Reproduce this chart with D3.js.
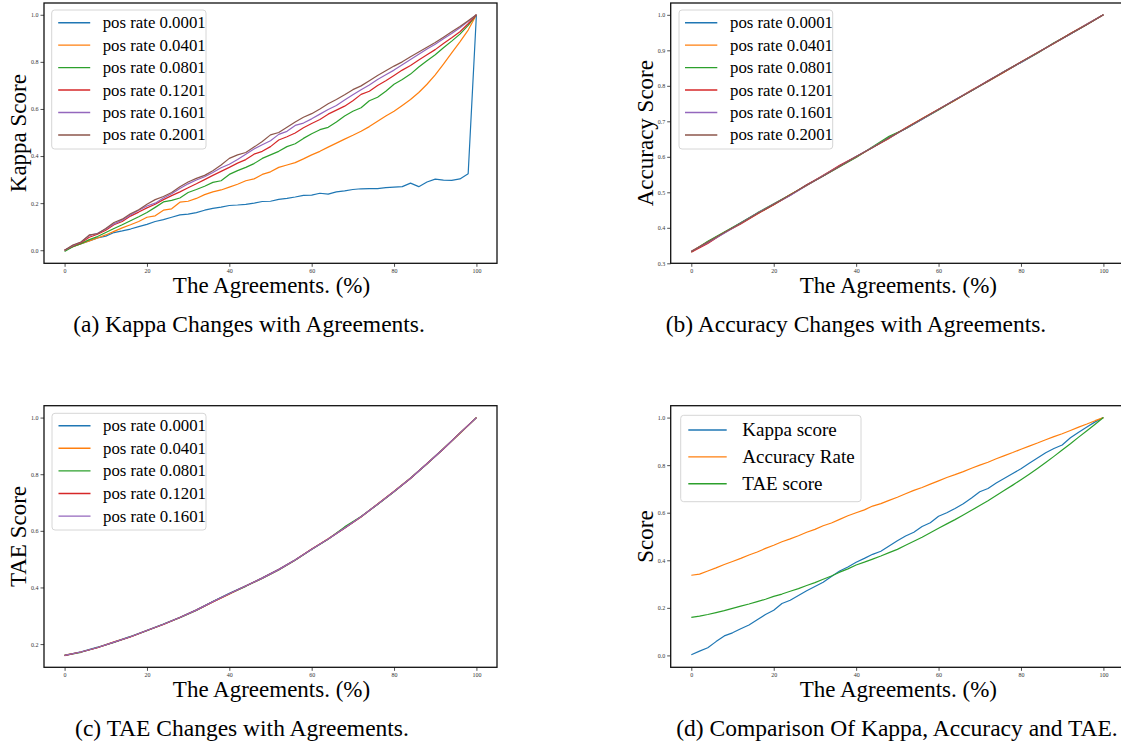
<!DOCTYPE html>
<html>
<head>
<meta charset="utf-8">
<script src="https://cdn.jsdelivr.net/npm/d3@7"></script>
<style>
body { margin: 0; background: #fff; }
text { font-family: "Liberation Serif", "Times New Roman", serif; }
</style>
</head>
<body>
<svg width="1121" height="744"></svg>
<script>
// x grids (agreement %)
const agreeFine = [0,2,4,6,8,10,12,14,16,18,20,22,24,26,28,30,32,34,36,38,40,42,44,46,48,50,
                   52,54,56,58,60,62,64,66,68,70,72,74,76,78,80,82,84,86,88,90,92,94,96,98,100];
const agreeCoarse = [0,4,8,12,16,20,24,28,32,36,40,44,48,52,56,60,64,68,72,76,80,84,88,92,96,100];
const xTicks = [0, 20, 40, 60, 80, 100];

const posRates = ["pos rate 0.0001", "pos rate 0.0401", "pos rate 0.0801",
                  "pos rate 0.1201", "pos rate 0.1601", "pos rate 0.2001"];
const colors = ["#1f77b4", "#ff7f0e", "#2ca02c", "#d62728", "#9467bd", "#8c564b"];

// (a) kappa per pos rate
const kappa0001 = [0,.015,.028,.040,.052,.060,.075,.082,.090,.100,.110,.122,.130,.140,.150,.153,.160,.170,.178,.183,
  .190,.192,.195,.200,.207,.208,.216,.220,.226,.233,.234,.242,.238,.248,.252,.258,.261,.262,.262,.266,
  .268,.270,.285,.270,.290,.302,.298,.297,.303,.325,1.0];
const kappa0401 = [0,.015,.028,.040,.052,.065,.080,.095,.108,.122,.140,.146,.170,.176,.204,.208,.220,.236,.248,.256,
  .268,.280,.295,.303,.322,.333,.352,.362,.372,.388,.405,.420,.438,.455,.472,.488,.505,.525,.548,.570,
  .590,.615,.640,.670,.705,.745,.790,.838,.885,.935,1.0];
const kappa0801 = [-.005,.015,.028,.045,.058,.075,.092,.108,.125,.142,.160,.182,.205,.212,.222,.245,.258,.272,.288,.295,
  .322,.338,.352,.368,.390,.405,.420,.440,.452,.475,.495,.512,.522,.545,.570,.590,.605,.635,.650,.675,
  .705,.725,.748,.778,.805,.830,.860,.888,.918,.955,1.0];
const kappa1201 = [0,.018,.032,.055,.068,.085,.108,.122,.145,.162,.180,.195,.215,.232,.248,.265,.282,.300,.318,.335,
  .352,.370,.385,.408,.420,.440,.468,.482,.498,.520,.538,.555,.578,.595,.612,.635,.662,.675,.700,.720,
  .742,.765,.785,.808,.830,.852,.878,.902,.928,.962,1.0];
const kappa1601 = [0,.020,.035,.062,.072,.090,.112,.128,.150,.170,.188,.200,.222,.240,.262,.282,.298,.312,.330,.350,
  .365,.385,.408,.430,.448,.465,.492,.505,.530,.540,.558,.578,.598,.615,.638,.660,.682,.702,.725,.745,
  .765,.788,.810,.832,.855,.875,.898,.920,.945,.972,1.0];
const kappa2001 = [0,.022,.035,.065,.070,.092,.118,.132,.155,.172,.195,.215,.228,.245,.270,.290,.305,.318,.338,.362,
  .390,.405,.415,.438,.462,.490,.500,.522,.545,.565,.580,.600,.622,.640,.660,.682,.698,.720,.742,.762,
  .782,.800,.822,.842,.862,.882,.905,.928,.950,.975,1.0];

// (b) accuracy per pos rate
const acc0001 = [.333,.358,.386,.414,.441,.466,.492,.521,.546,.574,.601,.626,.655,.679,.706,.733,.761,.786,.814,.840,.866,.893,.920,.946,.973,1];
const acc0401 = [.334,.361,.387,.412,.439,.465,.494,.519,.548,.575,.599,.627,.652,.681,.708,.734,.759,.788,.812,.839,.867,.894,.919,.947,.974,1];
const acc0801 = [.332,.362,.388,.414,.442,.468,.493,.520,.546,.572,.598,.628,.658,.679,.706,.732,.760,.786,.813,.841,.866,.892,.921,.946,.973,1];
const acc1201 = [.331,.356,.386,.411,.439,.465,.492,.521,.547,.576,.601,.626,.652,.681,.707,.734,.760,.787,.814,.840,.867,.893,.920,.947,.973,1];
const acc1601 = [.334,.359,.385,.413,.441,.467,.491,.519,.547,.574,.600,.627,.653,.680,.706,.733,.761,.787,.813,.841,.866,.893,.920,.946,.974,1];
const acc2001 = [.333,.360,.387,.413,.440,.466,.493,.520,.546,.573,.600,.626,.654,.680,.707,.733,.760,.786,.813,.840,.867,.893,.920,.947,.973,1];

// (c) TAE per pos rate
const tae0001 = [.160,.173,.189,.207,.227,.249,.271,.295,.321,.350,.379,.406,.434,.464,.498,.534,.571,.610,.650,.694,.739,.786,.837,.890,.945,1];
const tae0401 = [.161,.172,.188,.208,.226,.248,.270,.294,.320,.349,.376,.405,.433,.463,.497,.535,.572,.611,.649,.695,.740,.787,.836,.891,.944,1];
const tae0801 = [.160,.171,.188,.206,.226,.247,.270,.293,.319,.350,.378,.404,.432,.462,.496,.535,.570,.614,.651,.693,.738,.786,.837,.890,.945,1];
const tae1201 = [.159,.172,.187,.207,.225,.248,.269,.294,.320,.349,.378,.405,.433,.463,.497,.536,.571,.609,.650,.694,.739,.785,.838,.889,.946,1];
const tae1601 = [.160,.172,.188,.207,.226,.248,.270,.294,.320,.350,.378,.405,.433,.463,.497,.535,.571,.610,.650,.694,.739,.786,.837,.890,.945,1];

// (d) comparison
const compNames = ["Kappa score", "Accuracy Rate", "TAE score"];
const compKappa = [.003,.018,.032,.058,.082,.095,.112,.128,.150,.172,.190,.218,.232,.252,.272,.290,.308,.332,.355,.372,
  .392,.408,.425,.438,.460,.482,.502,.518,.542,.558,.585,.600,.618,.638,.662,.688,.702,.725,.745,.765,
  .785,.808,.830,.852,.870,.885,.915,.938,.960,.982,1.0];
const compAcc = [.337,.342,.355,.368,.382,.395,.408,.422,.435,.450,.463,.478,.490,.503,.518,.530,.545,.557,.572,.587,
  .600,.612,.628,.638,.652,.665,.680,.694,.706,.720,.734,.748,.760,.773,.787,.800,.812,.827,.840,.853,
  .867,.880,.893,.907,.920,.932,.946,.960,.973,.987,1.0];
const compTae = [.160,.165,.172,.180,.188,.198,.207,.216,.226,.236,.248,.258,.270,.281,.294,.306,.320,.334,.350,.364,
  .380,.392,.405,.418,.432,.446,.463,.480,.497,.516,.535,.553,.571,.590,.610,.630,.650,.672,.694,.716,
  .739,.762,.786,.811,.837,.864,.890,.918,.945,.972,1.0];

const svg = d3.select("svg");

function drawPanel(p) {
  const g = svg.append("g");
  const x = d3.scaleLinear().domain([-5, 105]).range([p.left, p.right]);
  const y = d3.scaleLinear().domain(p.yDomain).range([p.bottom, p.top]);
  const line = d3.line().x(d => x(d[0])).y(d => y(d[1]));

  p.series.forEach(s => {
    g.append("path")
      .datum(s.values.map((v, i) => [p.xs[i], v]))
      .attr("fill", "none")
      .attr("stroke", s.color)
      .attr("stroke-width", 1.2)
      .attr("stroke-linejoin", "round")
      .attr("d", line);
  });

  const xAxis = g.append("g")
    .attr("transform", `translate(0,${p.bottom})`)
    .call(d3.axisBottom(x).tickValues(xTicks).tickSize(3.5).tickPadding(1.5).tickFormat(d3.format("d")));
  const yAxis = g.append("g")
    .attr("transform", `translate(${p.left},0)`)
    .call(d3.axisLeft(y).tickValues(p.yTicks).tickSize(3.5).tickPadding(2).tickFormat(d3.format(".1f")));
  [xAxis, yAxis].forEach(a => {
    a.select(".domain").remove();
    a.selectAll("line").attr("stroke", "#222").attr("stroke-width", 0.8);
    a.selectAll("text").attr("fill", "#333").style("font-size", "6px")
      .style("font-family", "'Liberation Serif', serif");
  });

  // frame
  g.append("rect")
    .attr("x", p.left).attr("y", p.top)
    .attr("width", p.right - p.left).attr("height", p.bottom - p.top)
    .attr("fill", "none").attr("stroke", "#111").attr("stroke-width", 1.3);

  // axis labels
  g.append("text")
    .attr("x", (p.left + p.right) / 2 + 1)
    .attr("y", p.bottom + 30)
    .attr("text-anchor", "middle")
    .style("font-size", "23px")
    .text("The Agreements. (%)");
  g.append("text")
    .attr("transform", `translate(${p.left - 18},${(p.top + p.bottom) / 2}) rotate(-90)`)
    .attr("text-anchor", "middle")
    .style("font-size", "23px")
    .text(p.yLabel);

  // caption
  g.append("text")
    .attr("x", p.captionX)
    .attr("y", p.bottom + 68.5)
    .attr("text-anchor", "middle")
    .style("font-size", "23.5px")
    .text(p.caption);

  // legend
  const L = p.legend;
  g.append("rect")
    .attr("x", L.x).attr("y", L.y)
    .attr("width", L.w).attr("height", L.h)
    .attr("rx", 3)
    .attr("fill", "#fff").attr("fill-opacity", 0.8)
    .attr("stroke", "#d6d6d6").attr("stroke-width", 1);
  p.series.forEach((s, i) => {
    const cy = L.firstRow + i * L.step;
    g.append("line")
      .attr("x1", L.x + L.lineX0).attr("x2", L.x + L.lineX1)
      .attr("y1", cy).attr("y2", cy)
      .attr("stroke", s.color).attr("stroke-width", 1.4);
    g.append("text")
      .attr("x", L.x + L.textX)
      .attr("y", cy)
      .attr("dy", "0.33em")
      .style("font-size", L.font + "px")
      .text(s.name);
  });
}

drawPanel({
  left: 44, right: 497, top: 3, bottom: 263.3,
  yDomain: [-0.0555, 1.05], yTicks: [0, 0.2, 0.4, 0.6, 0.8, 1.0],
  xs: agreeFine,
  series: [kappa0001, kappa0401, kappa0801, kappa1201, kappa1601, kappa2001]
    .map((v, i) => ({name: posRates[i], color: colors[i], values: v})),
  yLabel: "Kappa Score",
  caption: "(a) Kappa Changes with Agreements.", captionX: 249,
  legend: {x: 51.7, y: 10, w: 154.3, h: 139, firstRow: 22.7, step: 22.45,
           lineX0: 6.5, lineX1: 38.5, textX: 51, font: 16.8}
});

drawPanel({
  left: 670.7, right: 1124, top: 3, bottom: 263.3,
  yDomain: [0.3, 1.0333], yTicks: [0.3, 0.4, 0.5, 0.6, 0.7, 0.8, 0.9, 1.0],
  xs: agreeCoarse,
  series: [acc0001, acc0401, acc0801, acc1201, acc1601, acc2001]
    .map((v, i) => ({name: posRates[i], color: colors[i], values: v})),
  yLabel: "Accuracy Score",
  caption: "(b) Accuracy Changes with Agreements.", captionX: 856,
  legend: {x: 679, y: 10, w: 153.7, h: 139, firstRow: 22.7, step: 22.45,
           lineX0: 6, lineX1: 38.3, textX: 51, font: 16.8}
});

drawPanel({
  left: 44, right: 497, top: 405.7, bottom: 667.3,
  yDomain: [0.118, 1.042], yTicks: [0.2, 0.4, 0.6, 0.8, 1.0],
  xs: agreeCoarse,
  series: [tae0001, tae0401, tae0801, tae1201, tae1601]
    .map((v, i) => ({name: posRates[i], color: colors[i], values: v})),
  yLabel: "TAE Score",
  caption: "(c) TAE Changes with Agreements.", captionX: 242,
  legend: {x: 52, y: 413.3, w: 154, h: 116.7, firstRow: 425.7, step: 22.6,
           lineX0: 6.5, lineX1: 38.5, textX: 51, font: 16.8}
});

drawPanel({
  left: 670.7, right: 1124, top: 405.7, bottom: 667.3,
  yDomain: [-0.05, 1.05], yTicks: [0, 0.2, 0.4, 0.6, 0.8, 1.0],
  xs: agreeFine,
  series: [compKappa, compAcc, compTae]
    .map((v, i) => ({name: compNames[i], color: colors[i], values: v})),
  yLabel: "Score",
  caption: "(d) Comparison Of Kappa, Accuracy and TAE.", captionX: 897,
  legend: {x: 680.7, y: 415.3, w: 180.3, h: 86.4, firstRow: 430, step: 26.9,
           lineX0: 7.6, lineX1: 46, textX: 61.6, font: 19}
});
</script>
</body>
</html>
